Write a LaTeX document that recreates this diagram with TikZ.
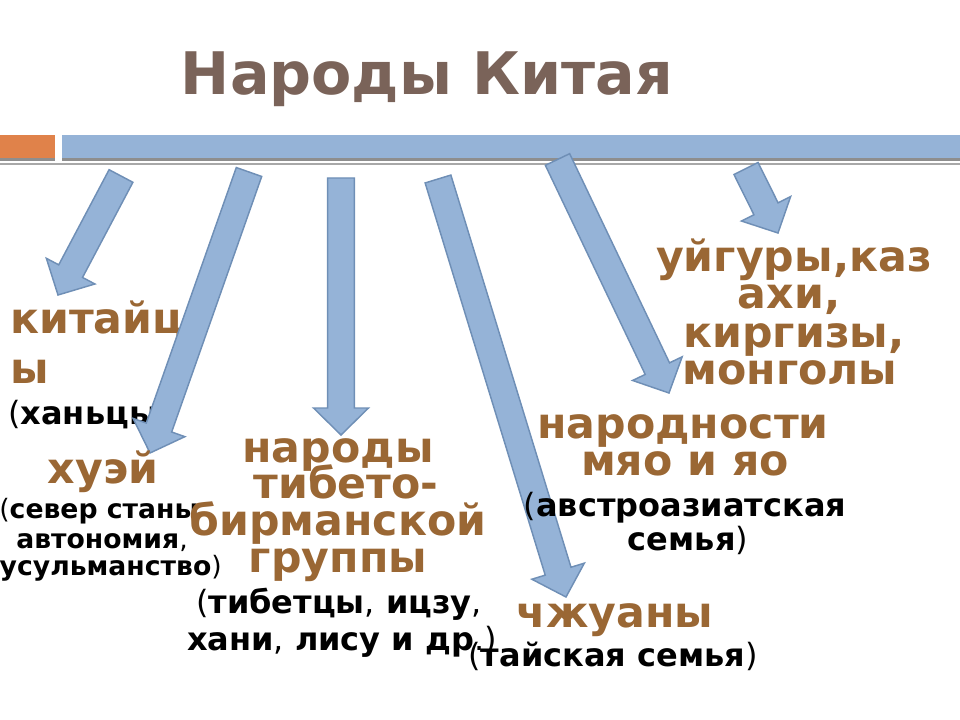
\documentclass[tikz,border=0pt]{standalone}
\usepackage{fontspec}
\setmainfont{DejaVu Sans}
\usetikzlibrary{calc}
\definecolor{barblue}{HTML}{95B3D7}
\definecolor{arrline}{HTML}{6F8FB6}
\definecolor{barorange}{HTML}{E0824A}
\definecolor{txtbrown}{HTML}{9A6734}
\definecolor{titlecol}{HTML}{7A6359}
\definecolor{shadowgray}{HTML}{8E8E8E}
\definecolor{linegray}{HTML}{A8A8A8}
\newcommand{\arrSW}{10.1pt}
\newcommand{\arrHW}{20.6pt}
\newcommand{\arrHL}{20.25pt}
\newcommand{\rg}[1]{{\mdseries #1}}
\newcommand{\blockarrow}[3]{%
  \coordinate (#1h) at ($(#3)!\arrHL!(#2)$);
  \draw[blockarr] ($(#2)!\arrSW!90:(#3)$) -- ($(#1h)!\arrSW!90:(#3)$) -- ($(#1h)!\arrHW!90:(#3)$) -- (#3)
    -- ($(#1h)!\arrHW!-90:(#3)$) -- ($(#1h)!\arrSW!-90:(#3)$) -- ($(#2)!\arrSW!-90:(#3)$) -- cycle;}
\tikzset{
  blockarr/.style={fill=barblue, draw=arrline, line width=1.1pt, line join=miter},
  brown/.style={anchor=base, inner sep=0pt, text=txtbrown, font=\bfseries\fontsize{32}{32}\selectfont},
  blk/.style={anchor=base, inner sep=0pt, text=black, font=\bfseries\fontsize{24}{24}\selectfont},
  blks/.style={anchor=base, inner sep=0pt, text=black, font=\bfseries\fontsize{20}{20}\selectfont},
}
\begin{document}
\begin{tikzpicture}[x=0.75pt, y=-0.75pt]
\useasboundingbox (0,0) rectangle (960,720);
\clip (0,0) rectangle (960,720);
% title
\node[anchor=base, inner sep=0pt, text=titlecol, font=\bfseries\fontsize{44}{44}\selectfont] (title) at (427,95) {Народы Китая};
% top bars
\fill[barorange] (0,135) rectangle (55,158);
\fill[barblue] (62,135) rectangle (960,158);
\fill[shadowgray] (0,158) rectangle (55,161);
\fill[shadowgray] (62,158) rectangle (960,161);
\fill[linegray] (0,163.5) rectangle (960,165.5);
% text covered by arrow
\node[brown, anchor=base west] (kit1) at (10,333) {китайц};
\node[brown, anchor=base west] (kit2) at (10,383) {ы};
\node[blk, anchor=base west] (han) at (8,424) {\rg{(}ханьцы};
% arrow coordinates
\coordinate (t1) at (121,176);   \coordinate (p1) at (58,295);
\coordinate (t2) at (249,172);   \coordinate (p2) at (150,453);
\coordinate (t3) at (341,178);   \coordinate (p3) at (341,435);
\coordinate (t4) at (438,179);   \coordinate (p4) at (566,597);
\coordinate (t5) at (557.5,159.5); \coordinate (p5) at (669,393);
\coordinate (t6) at (746,168.5); \coordinate (p6) at (778,233);
\blockarrow{a1}{t1}{p1}
\blockarrow{a2}{t2}{p2}
\blockarrow{a3}{t3}{p3}
\blockarrow{a4}{t4}{p4}
\blockarrow{a5}{t5}{p5}
\blockarrow{a6}{t6}{p6}
% хуэй
\node[brown] (huei) at (103,483) {хуэй};
\node[blks] (hs1) at (99,518) {\rg{(}север станы};
\node[blks] (hs2) at (102,548) {автономия\rg{,}};
\node[blks, anchor=base east] (hs3) at (222,575) {мусульманство\rg{)}};
% тибето-бирманской
\node[brown] (nar1) at (338,462) {народы};
\node[brown] (nar2) at (346,498) {тибето-};
\node[brown] (nar3) at (338,535) {бирманской};
\node[brown] (nar4) at (338,572) {группы};
\node[blk] (tib1) at (339,613) {\rg{(}тибетцы\rg{,} ицзу\rg{,}};
\node[blk] (tib2) at (342,650) {хани\rg{,} лису и др\rg{.)}};
% чжуаны
\node[brown] (zh1) at (615,627) {чжуаны};
\node[blk] (zh2) at (613,666) {\rg{(}тайская семья\rg{)}};
% мяо и яо
\node[brown] (ma1) at (683,438) {народности};
\node[brown] (ma2) at (685,475) {мяо и яо};
\node[blk] (ma3) at (685,516) {\rg{(}австроазиатская};
\node[blk] (ma4) at (688,550) {семья\rg{)}};
% уйгуры
\node[brown] (uy1) at (794,272) {уйгуры,каз};
\node[brown] (uy2) at (789,309) {ахи,};
\node[brown] (uy3) at (794,347) {киргизы,};
\node[brown] (uy4) at (790,384) {монголы};
\end{tikzpicture}
\end{document}
